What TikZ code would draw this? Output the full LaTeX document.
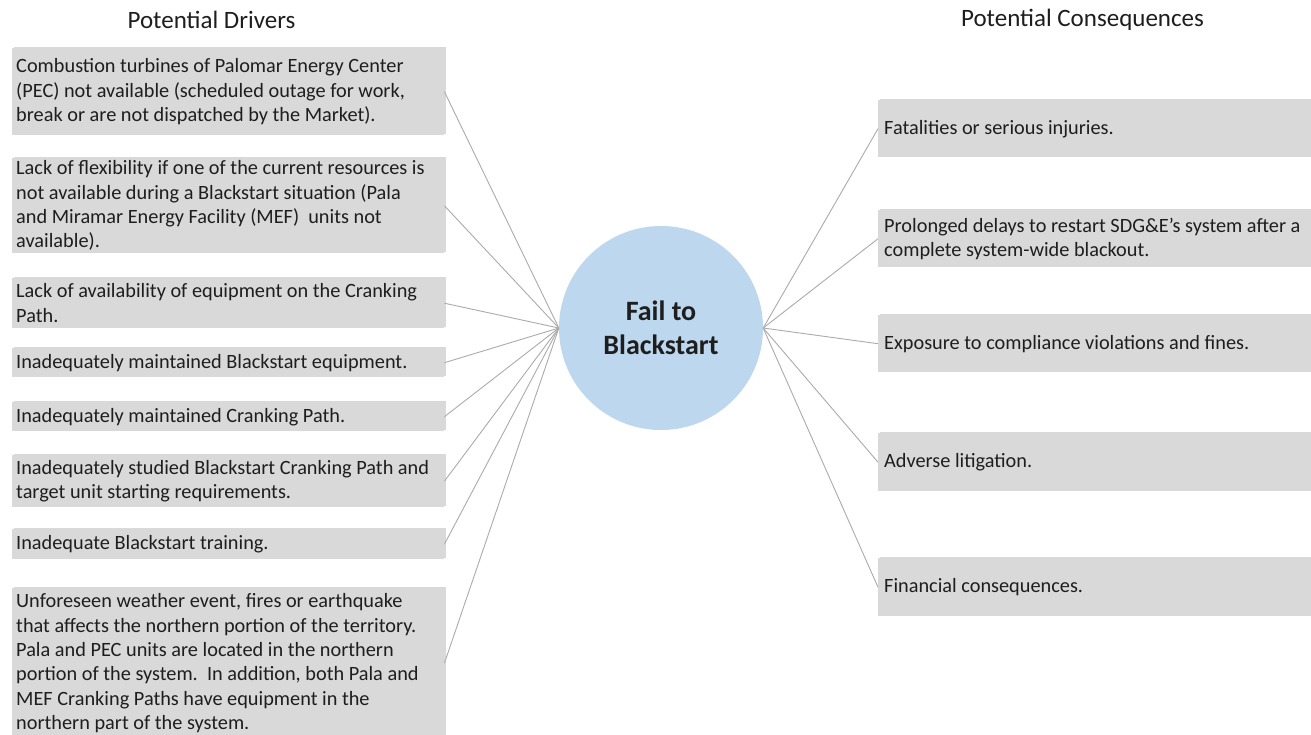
\documentclass[tikz,border=0pt]{standalone}
\usepackage{fontspec}
\setmainfont{Carlito}
\usetikzlibrary{shadows}
\definecolor{boxgray}{HTML}{D9D9D9}
\definecolor{linegray}{HTML}{ABABAB}
\definecolor{circblue}{HTML}{BDD7EE}
\definecolor{txt}{HTML}{1E1E1E}
\tikzset{
  dbox/.style={rectangle, fill=boxgray, anchor=north west, inner sep=0pt, minimum width=432pt,
    drop shadow={shadow xshift=1.5pt, shadow yshift=1.5pt, fill=black, opacity=0.15}},
  rbox/.style={rectangle, fill=boxgray, anchor=north west, inner sep=0pt, minimum width=434pt,
    drop shadow={shadow xshift=1.5pt, shadow yshift=1.5pt, fill=black, opacity=0.15}},
  btext/.style={anchor=west, align=left, inner sep=0pt, text=txt, font=\fontsize{20.3}{24.4}\selectfont},
  head/.style={text=txt, inner sep=0pt, font=\fontsize{25}{30}\selectfont},
  conn/.style={draw=linegray, line width=0.9pt},
  hub/.style={circle, fill=circblue, minimum size=204pt, inner sep=0pt, align=center, text=txt,
    font=\fontsize{28}{34}\selectfont\bfseries}
}
\begin{document}
\begin{tikzpicture}[x=1pt,y=-1pt]
\useasboundingbox (0,0) rectangle (1311,734);
\clip (0,0) rectangle (1311,734);
\fill[white] (0,0) rectangle (1311,734);

\node[head] (hd) at (211.5,20) {Potential Drivers};
\node[head] (hc) at (1082.5,20) {Potential Consequences};

\node[hub] (c) at (661,328) {Fail to\\Blackstart};

% drivers
\node[dbox, minimum height=87pt] (d1) at (12,48) {};
\node[btext] (t1) at ([xshift=4pt]d1.west) {Combustion turbines of Palomar Energy Center\\(PEC) not available (scheduled outage for work,\\break or are not dispatched by the Market).};
\node[dbox, minimum height=95pt] (d2) at (12,158) {};
\node[btext] (t2) at ([xshift=4pt]d2.west) {Lack of flexibility if one of the current resources is\\not available during a Blackstart situation (Pala\\and Miramar Energy Facility (MEF)\ \ units not\\available).};
\node[dbox, minimum height=50pt] (d3) at (12,278) {};
\node[btext] (t3) at ([xshift=4pt]d3.west) {Lack of availability of equipment on the Cranking\\Path.};
\node[dbox, minimum height=29pt] (d4) at (12,348) {};
\node[btext] (t4) at ([xshift=4pt]d4.west) {Inadequately maintained Blackstart equipment.};
\node[dbox, minimum height=29pt] (d5) at (12,402) {};
\node[btext] (t5) at ([xshift=4pt]d5.west) {Inadequately maintained Cranking Path.};
\node[dbox, minimum height=52pt] (d6) at (12,455) {};
\node[btext] (t6) at ([xshift=4pt]d6.west) {Inadequately studied Blackstart Cranking Path and\\target unit starting requirements.};
\node[dbox, minimum height=30pt] (d7) at (12,529) {};
\node[btext] (t7) at ([xshift=4pt]d7.west) {Inadequate Blackstart training.};
\node[dbox, minimum height=150pt] (d8) at (12,588) {};
\node[btext] (t8) at ([xshift=4pt]d8.west) {Unforeseen weather event, fires or earthquake\\that affects the northern portion of the territory.\\Pala and PEC units are located in the northern\\portion of the system.\ \ In addition, both Pala and\\MEF Cranking Paths have equipment in the\\northern part of the system.};

% consequences
\node[rbox, minimum height=57pt] (r1) at (878,100) {};
\node[btext] (u1) at ([xshift=6pt]r1.west) {Fatalities or serious injuries.};
\node[rbox, minimum height=57pt] (r2) at (878,210) {};
\node[btext] (u2) at ([xshift=6pt]r2.west) {Prolonged delays to restart SDG\&E’s system after a\\complete system-wide blackout.};
\node[rbox, minimum height=57pt] (r3) at (878,315) {};
\node[btext] (u3) at ([xshift=6pt]r3.west) {Exposure to compliance violations and fines.};
\node[rbox, minimum height=58pt] (r4) at (878,433) {};
\node[btext] (u4) at ([xshift=6pt]r4.west) {Adverse litigation.};
\node[rbox, minimum height=58pt] (r5) at (878,558) {};
\node[btext] (u5) at ([xshift=6pt]r5.west) {Financial consequences.};

% connectors
\foreach \n in {d1,d2,d3,d4,d5,d6,d7,d8}{
  \draw[conn] (\n.east) -- (c.west);
}
\foreach \n in {r1,r2,r3,r4,r5}{
  \draw[conn] (c.east) -- (\n.west);
}
\end{tikzpicture}
\end{document}
